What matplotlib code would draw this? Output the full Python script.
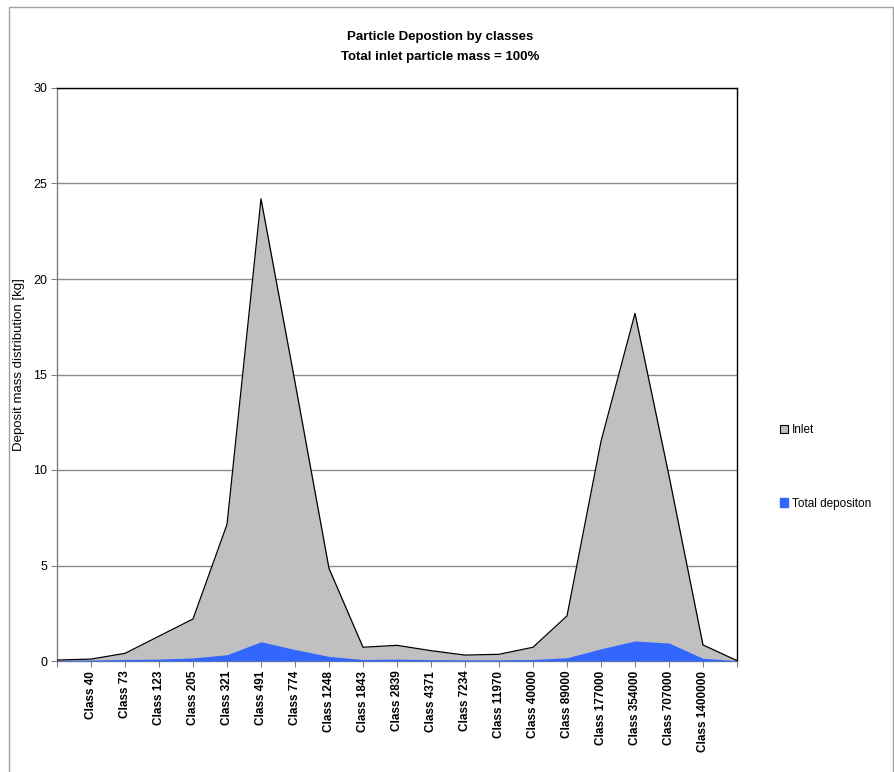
import matplotlib
matplotlib.use("Agg")
import matplotlib.pyplot as plt
from matplotlib.patches import Patch, Rectangle

plt.rcParams['font.family'] = ['Liberation Sans', 'DejaVu Sans']

# category labels (first and last positions carry no label)
classes = ["", "Class 40", "Class 73", "Class 123", "Class 205", "Class 321",
           "Class 491", "Class 774", "Class 1248", "Class 1843", "Class 2839",
           "Class 4371", "Class 7234", "Class 11970", "Class 40000",
           "Class 89000", "Class 177000", "Class 354000", "Class 707000",
           "Class 1400000", ""]

inlet = [0.05, 0.1, 0.4, 1.3, 2.2, 7.15, 24.2, 14.6, 4.85, 0.72, 0.82,
         0.54, 0.31, 0.35, 0.72, 2.36, 11.5, 18.2, 9.7, 0.84, 0.02]

deposition = [0.03, 0.05, 0.08, 0.1, 0.16, 0.33, 1.01, 0.6, 0.24, 0.08, 0.1,
              0.07, 0.06, 0.06, 0.08, 0.17, 0.64, 1.05, 0.94, 0.14, 0.02]

x = list(range(len(classes)))

fig = plt.figure(figsize=(8.95, 7.72), dpi=100)
W, H = 895, 772
ax = fig.add_axes([57 / W, 1 - 661 / H, (737 - 57) / W, (661 - 88) / H])

# outer chart border
fig.patches.append(Rectangle((9 / W, -0.01), (893 - 9) / W, 1 - 7 / H + 0.01,
                             transform=fig.transFigure, fill=False,
                             edgecolor='#a0a0a0', linewidth=1.0))

ax.fill_between(x, inlet, 0, color='#c0c0c0', linewidth=0, zorder=2)
ax.plot(x, inlet, color='black', linewidth=0.9, zorder=3)
ax.fill_between(x, deposition, 0, color='#3366ff', linewidth=0, zorder=4)

ax.set_xlim(0, len(classes) - 1)
ax.set_ylim(0, 30)
ax.set_yticks(range(0, 31, 5))
ax.yaxis.grid(True, color='#8c8c8c', linewidth=1.0, zorder=1)
ax.set_axisbelow(True)

ax.set_xticks(x)
ax.set_xticklabels(classes, rotation=90, fontsize=8.5, fontweight='bold')
ax.tick_params(axis='x', length=4, width=0.8, color='#808080', pad=3)
ax.tick_params(axis='y', length=4, width=0.8, color='#808080', labelsize=9, pad=3)

for side in ['top', 'right']:
    ax.spines[side].set_color('black')
    ax.spines[side].set_linewidth(1.0)
for side in ['left', 'bottom']:
    ax.spines[side].set_color('#808080')
    ax.spines[side].set_linewidth(1.0)

ax.set_ylabel("Deposit mass distribution [kg]", fontsize=9.5)
ax.yaxis.set_label_coords((25 - 57) / (737 - 57), (661 - 365) / (661 - 88))

fig.text(440 / W, 1 - 37 / H, "Particle Depostion by classes",
         ha='center', va='center', fontsize=9.5, fontweight='bold')
fig.text(440 / W, 1 - 57 / H, "Total inlet particle mass = 100%",
         ha='center', va='center', fontsize=9.5, fontweight='bold')

handles = [Patch(facecolor='#c0c0c0', edgecolor='black', linewidth=0.8),
           Patch(facecolor='#3366ff', edgecolor='#3366ff')]
fig.legend(handles, ["Inlet", "Total depositon"], loc='center left',
           bbox_to_anchor=(775 / W, 1 - 467 / H), frameon=False, fontsize=8.5,
           handlelength=0.7, handleheight=0.7, handletextpad=0.3,
           labelspacing=5.2, borderaxespad=0)

fig.savefig("out.png", dpi=100)
